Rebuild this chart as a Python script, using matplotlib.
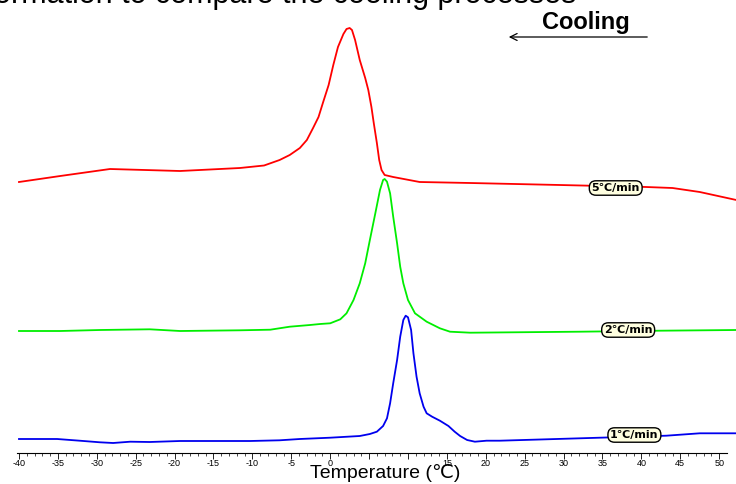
import numpy as np
import matplotlib
matplotlib.use('Agg')
import matplotlib.pyplot as plt

plt.rcParams['font.family'] = ['Liberation Sans', 'DejaVu Sans']

### DSC cooling curves (arbitrary heat flow units, stacked)
T_5 = [-40, -34.7, -28.3, -19.3, -11.6, -8.5, -6.5, -5.2, -3.9, -3.0, -2.2, -1.5, -0.9, -0.2,
       0.4, 1.0, 1.7, 2.1, 2.5, 2.8, 3.2, 3.8, 4.5, 4.9, 5.3, 5.6, 6.0, 6.3, 6.6, 7.0, 8.1,
       11.5, 18.0, 29.5, 40.6, 44.0, 47.5, 52.2]
HF_5 = [271, 277, 284, 282, 285, 287.5, 293, 298, 305, 313, 325, 336, 351, 368,
        388, 406, 419, 424, 425, 423, 413, 393, 375, 363, 346, 330, 310, 293, 283, 278, 276,
        271, 270, 268, 266, 265, 261, 253]

T_2 = [-40, -34.7, -29.6, -23.2, -19.3, -11.6, -7.7, -5.2, -2.6, -1.3, 0.0, 1.3, 2.1, 3.0,
       3.8, 4.5, 5.1, 5.8, 6.4, 6.8, 7.0, 7.3, 7.7, 8.1, 8.6, 9.0, 9.4, 10.0, 10.9, 12.4,
       14.1, 15.4, 18.0, 32.1, 42.4, 52.2]
HF_2 = [122, 122, 123, 123.7, 122, 122.7, 123.3, 126.3, 128, 129, 129.7, 133.7, 139.7, 153,
        169.7, 189.7, 213, 239.7, 263, 273, 274, 271.3, 259.7, 236.3, 209.7, 186.3, 169.7, 153, 139.7, 131.3,
        124.7, 121.3, 120.3, 121.3, 122.3, 123]

T_1 = [-40, -35.1, -32.2, -29.6, -27.9, -25.7, -23.2, -19.3, -10.3, -6.5, -3.9, 0.0, 3.8, 5.1,
       6.0, 6.8, 7.3, 7.7, 8.1, 8.6, 9.0, 9.4, 9.7, 10.0, 10.4, 10.7, 11.1, 11.5, 12.0, 12.4,
       13.1, 14.1, 15.2, 16.0, 16.7, 17.6, 18.6, 20.1, 21.8, 32.1, 43.2, 47.5, 52.2]
HF_1 = [14, 14, 12.3, 10.7, 10, 11.3, 11, 12, 12, 12.7, 14, 15.3, 17, 19,
        21.3, 27, 34.7, 49.7, 69.7, 93, 116.3, 133, 137.3, 135.7, 123, 99.7, 76.3, 59.7, 46.3, 39.7,
        36.3, 32.3, 27, 21.3, 17, 13, 11.3, 12.3, 12.3, 14.7, 17.3, 19.7, 19.7]

rate_labels = ['5\u2103/min', '2\u2103/min', '1\u2103/min']
label_T = [36.7, 38.3, 39.1]
label_HF = [265, 123, 18]

tick_vals = list(range(-40, 55, 5))
tick_labels = [str(v) if v not in (5, 10) else '' for v in tick_vals]

### figure
fig = plt.figure(figsize=(7.36, 4.84), dpi=100)
ax = fig.add_axes([0, 31 / 484, 1, 453 / 484])

ax.plot(T_5, HF_5, color='#ff0000', lw=1.3)
ax.plot(T_2, HF_2, color='#00ee00', lw=1.3)
ax.plot(T_1, HF_1, color='#0000ee', lw=1.3)

for lab, tx, hy in zip(rate_labels, label_T, label_HF):
    ax.text(tx, hy, lab, ha='center', va='center', fontsize=8, fontweight='bold',
            family=['DejaVu Sans'],
            bbox=dict(boxstyle='round,pad=0.2,rounding_size=0.6', fc='#ffffe0', ec='black', lw=1))

ax.set_xlim(-42.44, 52.16)
ax.set_ylim(0, 453)
for s in ['top', 'left', 'right']:
    ax.spines[s].set_visible(False)
ax.spines['bottom'].set_bounds(-40.3, 51)
ax.spines['bottom'].set_linewidth(0.8)
ax.set_yticks([])
ax.set_xticks(tick_vals)
ax.set_xticklabels(tick_labels, fontsize=6.5)
ax.set_xticks(np.arange(-40, 51, 1), minor=True)
ax.tick_params(axis='x', which='major', length=4, width=0.6, pad=0)
ax.tick_params(axis='x', which='minor', length=2, width=0.5)

fig.text(385 / 736, 1 - 473 / 484, 'Temperature (\u2103)', ha='center', va='center', fontsize=14,
         family=['DejaVu Sans'] if False else ['Liberation Sans', 'DejaVu Sans'])

### cooling direction
fig.text(586 / 736, 1 - 23 / 484, 'Cooling', ha='center', va='center', fontsize=17, fontweight='bold')
fig.patches.append(matplotlib.patches.FancyArrowPatch((650 / 736, 1 - 37 / 484), (506 / 736, 1 - 37 / 484),
                   transform=fig.transFigure, arrowstyle='->,head_length=5,head_width=2.5', lw=0.9, color='black'))

### cut-off caption line above the chart
fig.text(-38 / 736, 1 - 3 / 484, 'information to compare the cooling processes', ha='left', va='baseline', fontsize=22)

fig.savefig('out.png', dpi=100)
